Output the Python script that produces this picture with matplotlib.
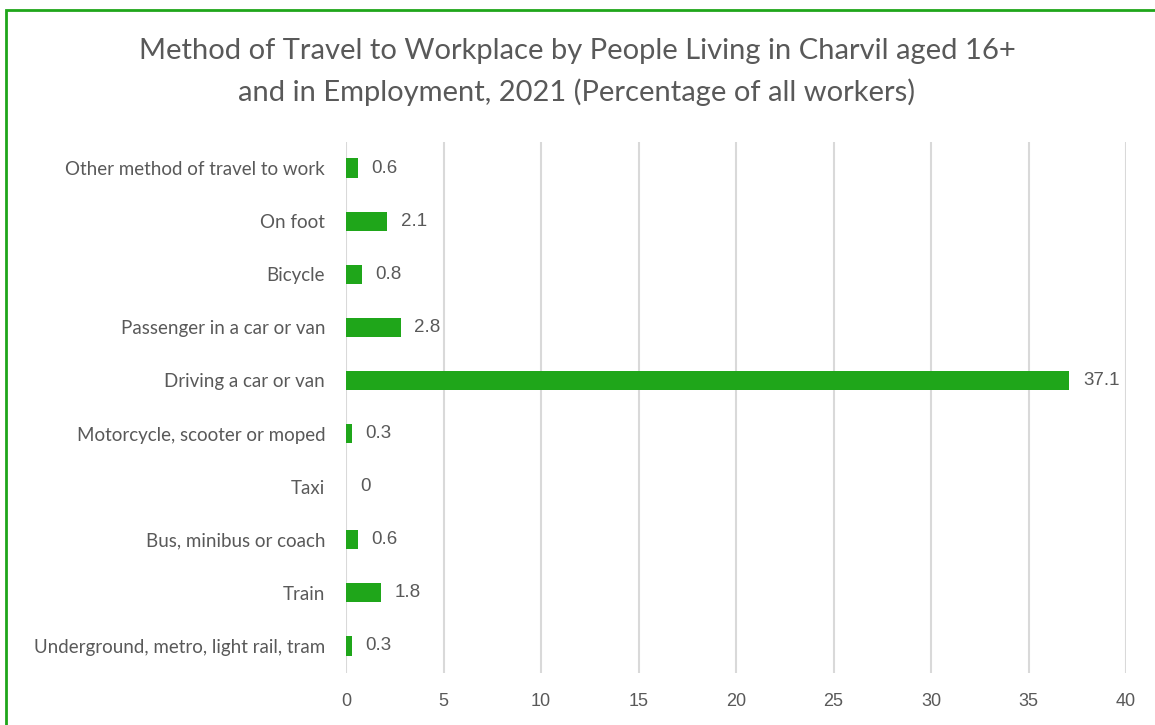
import matplotlib.pyplot as plt
from matplotlib.patches import Rectangle

# Travel-to-work shares, listed top to bottom as shown
categories = [
    "Other method of travel to work",
    "On foot",
    "Bicycle",
    "Passenger in a car or van",
    "Driving a car or van",
    "Motorcycle, scooter or moped",
    "Taxi",
    "Bus, minibus or coach",
    "Train",
    "Underground, metro, light rail, tram",
]
percentages = [0.6, 2.1, 0.8, 2.8, 37.1, 0.3, 0, 0.6, 1.8, 0.3]
x_ticks = [0, 5, 10, 15, 20, 25, 30, 35, 40]

title = ("Method of Travel to Workplace by People Living in Charvil aged 16+\n"
         "and in Employment, 2021 (Percentage of all workers)")

GREEN = "#1fa61a"
TEXT = "#595959"
GRID = "#d9d9d9"

fig = plt.figure(figsize=(11.55, 7.25), dpi=100)
W, H = 1155, 725

# green frame around the chart area (runs off the right and bottom edges)
fig.patches.append(Rectangle((6 / W, -0.05), 1.2, 1 - 10 / H + 0.05,
                             transform=fig.transFigure, fill=False,
                             edgecolor=GREEN, linewidth=2))

ax = fig.add_axes([346 / W, 1 - 672.5 / H, (1126 - 346) / W, (672.5 - 141.5) / H])

ypos = list(range(len(categories)))
ax.barh(ypos, percentages, height=0.36, color=GREEN, zorder=3)
ax.set_ylim(len(categories) - 0.5, -0.5)
ax.set_xlim(0, 40)

for y, v in zip(ypos, percentages):
    ax.annotate(f"{v:g}", (v, y), xytext=(10, 0), textcoords="offset points",
                ha="left", va="center", fontsize=13.5, color=TEXT,
                family="Liberation Sans")

ax.set_yticks(ypos)
ax.set_yticklabels(categories, fontsize=13.5, color=TEXT, family="Lato")
ax.set_xticks(x_ticks)
ax.set_xticklabels([str(t) for t in x_ticks], fontsize=13, color=TEXT,
                   family="Liberation Sans")
ax.tick_params(axis="both", length=0)
ax.tick_params(axis="y", pad=15)
ax.tick_params(axis="x", pad=15)

ax.xaxis.grid(True, color=GRID, linewidth=1.5, zorder=0)
for s in ax.spines.values():
    s.set_visible(False)

fig.text(577 / W, 1 - 72 / H, title, ha="center", va="center",
         fontsize=21, color=TEXT, family="Lato", linespacing=1.65)

fig.savefig("out.png", dpi=100)
